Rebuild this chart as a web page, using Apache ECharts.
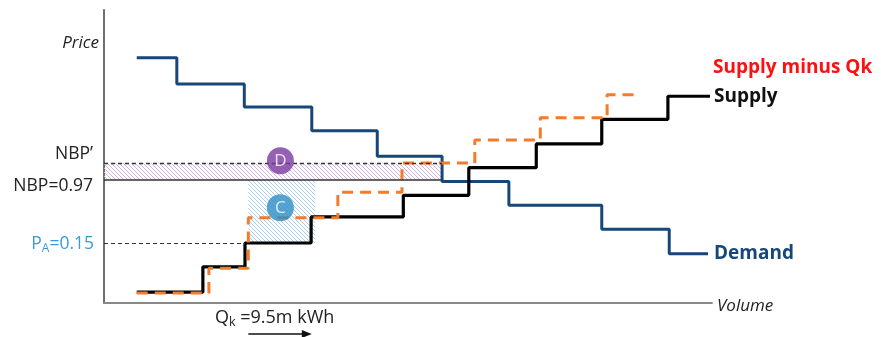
<!DOCTYPE html>
<html>
<head>
<meta charset="utf-8">
<script src="https://cdn.jsdelivr.net/npm/echarts@6/dist/echarts.min.js"></script>
<style>
  html, body { margin: 0; padding: 0; background: #ffffff; }
  #chart { width: 881px; height: 337px; }
</style>
</head>
<body>
<div id="chart"></div>
<script>
// Step curves: boundaries on the volume axis, one price level per step
const demandVolume  = [4.9, 10.9, 21.0, 31.1, 40.9, 50.6, 60.6, 74.5, 84.6, 90.4];
const demandPrice   = [2.56, 2.22, 1.92, 1.61, 1.28, 0.95, 0.64, 0.33, 0.01];
const supplyVolume  = [4.9, 14.8, 21.1, 31.0, 44.8, 54.6, 64.7, 74.5, 84.4, 90.7];
const supplyPrice   = [-0.49, -0.16, 0.15, 0.49, 0.77, 1.13, 1.44, 1.76, 2.06];
const shiftedVolume = [4.9, 15.7, 21.6, 35.0, 44.6, 55.5, 65.3, 75.3, 79.5];
const shiftedPrice  = [-0.50, -0.18, 0.48, 0.81, 1.19, 1.49, 1.78, 2.08];

// Reference prices
const priceNames  = ["NBP\u2019", "NBP=0.97", "P_A=0.15"];
const priceLevels = [1.19, 0.97, 0.15];

// Shaded regions D and C: [volume from, volume to], [price low, price high]
const areaDVolume = [0, 50.6];
const areaDPrice  = [0.97, 1.19];
const areaCVolume = [21.6, 31.6];
const areaCPrice  = [0.15, 0.97];

// Region badges
const badgeNames  = ["D", "C"];
const badgeVolume = [26.4, 26.4];
const badgePrice  = [1.22, 0.61];

// Volume withheld, m kWh
const qkVolume = 9.5;
const qkStart  = 21.6;

// Axis ranges
const volumeRange = [0, 91];
const priceRange  = [-0.631, 3.183];

const FONT = "'Open Sans', 'Liberation Sans', Arial, sans-serif";

function stepPoints(vol, price) {
  const pts = price.map((p, i) => [vol[i], p]);
  pts.push([vol[vol.length - 1], price[price.length - 1]]);
  return pts;
}

function hatch(color) {
  const s = 4;
  const c = document.createElement('canvas');
  c.width = s; c.height = s;
  const g = c.getContext('2d');
  g.strokeStyle = color;
  g.lineWidth = 1;
  g.beginPath();
  for (const k of [-s, 0, s]) { g.moveTo(k, 0); g.lineTo(k + s, s); }
  g.stroke();
  return { image: c, repeat: 'repeat' };
}

const chart = echarts.init(document.getElementById('chart'), null, { renderer: 'canvas' });

const option = {
  animation: false,
  backgroundColor: '#ffffff',
  grid: { left: 104, right: 169, top: 10, bottom: 34, containLabel: false },
  xAxis: {
    type: 'value', min: volumeRange[0], max: volumeRange[1],
    axisLine: { show: true, onZero: false, lineStyle: { color: '#8a8a8a', width: 2 } },
    axisTick: { show: false }, axisLabel: { show: false }, splitLine: { show: false }
  },
  yAxis: {
    type: 'value', min: priceRange[0], max: priceRange[1],
    axisLine: { show: true, onZero: false, lineStyle: { color: '#6e6e6e', width: 2 } },
    axisTick: { show: false }, axisLabel: { show: false }, splitLine: { show: false }
  },
  series: [
    {
      name: 'Demand', type: 'line', step: 'end', symbol: 'none', silent: true,
      data: stepPoints(demandVolume, demandPrice),
      lineStyle: { color: '#174778', width: 3 },
      endLabel: { show: true, formatter: 'Demand', distance: 6, color: '#174778',
                  fontFamily: FONT, fontWeight: 'bold', fontSize: 19 },
      markArea: {
        silent: true,
        data: [
          [ { coord: [areaDVolume[0], areaDPrice[1]], itemStyle: { color: hatch('#D6B3E6') } },
            { coord: [areaDVolume[1], areaDPrice[0]] } ],
          [ { coord: [areaCVolume[0], areaCPrice[1]], itemStyle: { color: hatch('#A6D0EE') } },
            { coord: [areaCVolume[1], areaCPrice[0]] } ]
        ]
      },
      markLine: {
        silent: true, symbol: ['none', 'none'], label: { show: false },
        data: [
          [ { coord: [0, priceLevels[0]], lineStyle: { type: [4, 3], color: '#333333', width: 1.3 } },
            { coord: [areaDVolume[1], priceLevels[0]] } ],
          [ { coord: [0, priceLevels[1]], lineStyle: { type: 'solid', color: '#333333', width: 1.5 } },
            { coord: [areaDVolume[1], priceLevels[1]] } ],
          [ { coord: [0, priceLevels[2]], lineStyle: { type: [4, 3], color: '#333333', width: 1.2 } },
            { coord: [supplyVolume[2], priceLevels[2]] } ]
        ]
      }
    },
    {
      name: 'Supply', type: 'line', step: 'end', symbol: 'none', silent: true,
      data: stepPoints(supplyVolume, supplyPrice),
      lineStyle: { color: '#000000', width: 3.2 },
      endLabel: { show: true, formatter: 'Supply', distance: 4, color: '#111111',
                  fontFamily: FONT, fontWeight: 'bold', fontSize: 19 }
    },
    {
      name: 'Supply minus Qk', type: 'line', step: 'end', symbol: 'none', silent: true,
      data: stepPoints(shiftedVolume, shiftedPrice),
      lineStyle: { color: '#F47A2C', width: 3, type: [11, 7] }
    },
    {
      name: 'Regions', type: 'scatter', silent: true, symbolSize: 27, z: 5,
      data: badgeNames.map((n, i) => ({
        name: n, value: [badgeVolume[i], badgePrice[i]],
        itemStyle: { color: n === 'D' ? '#7A3AA0' : '#2E8EC6' }
      })),
      label: { show: true, position: 'inside', formatter: '{b}', color: '#ffffff',
               fontFamily: FONT, fontSize: 17 }
    }
  ]
};

chart.setOption(option);

// Annotation texts anchored to axis coordinates
const px = (v, p) => chart.convertToPixel({ gridIndex: 0 }, [v, p]);
const left = px(0, 0)[0];
const yNbpP = px(0, priceLevels[0])[1];
const yNbp = px(0, priceLevels[1])[1];
const yPa = px(0, priceLevels[2])[1];
const yTop = px(0, priceRange[1])[1];
const xAxisY = px(0, priceRange[0])[1];
const xAxisEnd = px(volumeRange[1], priceRange[0])[0];
const supplyEnd = px(supplyVolume[supplyVolume.length - 1], supplyPrice[supplyPrice.length - 1]);
const qkA = px(qkStart, 0)[0];
const qkB = px(qkStart + qkVolume, 0)[0];

const txt = (text, x, y, extra) => ({
  type: 'text', silent: true,
  style: Object.assign({ text, x, y, fill: '#222222', fontFamily: FONT, fontSize: 17.5,
                         align: 'right', verticalAlign: 'middle' }, extra)
});

chart.setOption({
  graphic: [
    txt('Price', left - 5, yTop + 33, { fontStyle: 'italic', fontSize: 17 }),
    txt('Volume', xAxisEnd + 5, xAxisY + 3, { align: 'left', fontStyle: 'italic', fontSize: 17 }),
    txt(priceNames[0], left - 11, yNbpP - 9, {}),
    txt(priceNames[1], left - 11, yNbp + 6, {}),
    txt('{m|P}{s|A}{m|=0.15}', left - 10, yPa + 1, {
      fill: '#3B9BD6',
      rich: {
        m: { fontFamily: FONT, fontSize: 17.5, fill: '#3B9BD6', lineHeight: 22, verticalAlign: 'middle' },
        s: { fontFamily: FONT, fontSize: 12, fill: '#3B9BD6', lineHeight: 22, verticalAlign: 'bottom' }
      }
    }),
    txt('{m|Q}{s|k}{m| =9.5m kWh}', left + 111, xAxisY + 15, {
      align: 'left',
      rich: {
        m: { fontFamily: FONT, fontSize: 18, fill: '#222222', lineHeight: 22, verticalAlign: 'middle' },
        s: { fontFamily: FONT, fontSize: 12.5, fill: '#222222', lineHeight: 22, verticalAlign: 'bottom' }
      }
    }),
    txt('Supply minus Qk', supplyEnd[0] + 3, supplyEnd[1] - 29, {
      align: 'left', fill: '#FF1010', fontWeight: 'bold', fontSize: 19
    }),
    {
      type: 'line', silent: true,
      shape: { x1: qkA, y1: xAxisY + 31, x2: qkB - 8, y2: xAxisY + 31 },
      style: { stroke: '#111111', lineWidth: 1.5 }
    },
    {
      type: 'polygon', silent: true,
      shape: { points: [[qkB - 10, xAxisY + 27], [qkB, xAxisY + 31], [qkB - 10, xAxisY + 35]] },
      style: { fill: '#111111' }
    }
  ]
});
</script>
</body>
</html>
